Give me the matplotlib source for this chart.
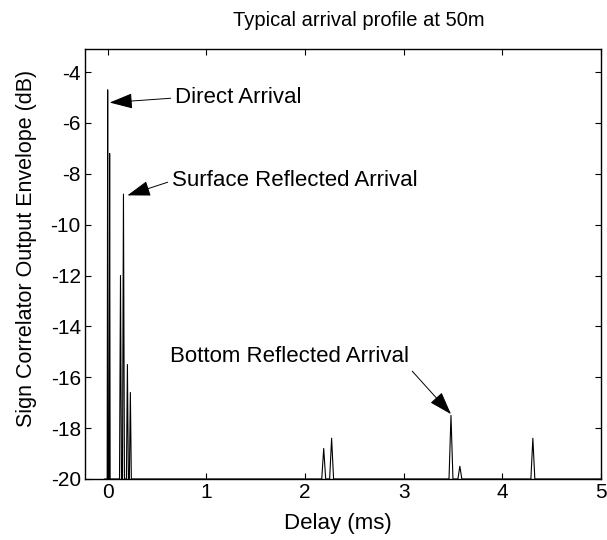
import matplotlib.pyplot as plt

plt.rcParams["font.family"] = ["Liberation Sans", "DejaVu Sans"]
plt.rcParams["axes.unicode_minus"] = False

# envelope samples (delay in ms, level in dB)
delay_ms = [-0.03, -0.005, 0.0, 0.005, 0.015, 0.02, 0.025,
            0.12, 0.13, 0.14, 0.15, 0.16, 0.17,
            0.19, 0.2, 0.21, 0.22, 0.23, 0.24,
            2.17, 2.19, 2.21, 2.25, 2.27, 2.29,
            3.46, 3.48, 3.50, 3.55, 3.57, 3.59,
            4.29, 4.31, 4.33, 5.0]
level_db = [-20, -20, -4.7, -20, -20, -7.2, -20,
            -20, -12.0, -20, -20, -8.8, -20,
            -20, -15.5, -20, -20, -16.6, -20,
            -20, -18.8, -20, -20, -18.4, -20,
            -20, -17.5, -20, -20, -19.5, -20,
            -20, -18.4, -20, -20]

labels = ["Direct Arrival", "Surface Reflected Arrival", "Bottom Reflected Arrival"]
label_xy = [(0.68, -5.02), (0.65, -8.28), (0.63, -15.2)]
arrow_tip = [(0.02, -5.2), (0.2, -8.85), (3.48, -17.45)]
arrow_from = [(0, 0.5), (0, 0.5), (1.0, 0.0)]

fig = plt.figure(figsize=(6.07, 5.40), dpi=100)
ax = fig.add_axes([0.140, 0.113, 0.850, 0.796])

ax.plot(delay_ms, level_db, color="black", linewidth=0.8)

for text, xy_text, tip, rp in zip(labels, label_xy, arrow_tip, arrow_from):
    ax.annotate(text, xy=tip, xytext=xy_text, fontsize=16, va="center", ha="left",
                arrowprops=dict(arrowstyle="-|>,head_length=0.9,head_width=0.3",
                                color="black", linewidth=0.7, shrinkA=1, shrinkB=0,
                                relpos=rp))

ax.set_xlim(-0.23, 5)
ax.set_ylim(-20, -3.1)
ax.set_xticks([0, 1, 2, 3, 4, 5])
ax.set_yticks([-4, -6, -8, -10, -12, -14, -16, -18, -20])
ax.tick_params(direction="in", top=True, right=True, labelsize=15, length=4, pad=3)
for s in ax.spines.values():
    s.set_linewidth(1.0)

ax.set_title("Typical arrival profile at 50m", fontsize=14.5, pad=17, x=0.53)
ax.set_xlabel("Delay (ms)", fontsize=16, labelpad=8, x=0.49)
ax.set_ylabel("Sign Correlator Output Envelope (dB)", fontsize=15.5, labelpad=10, y=0.537)

fig.savefig("out.png", dpi=100)
